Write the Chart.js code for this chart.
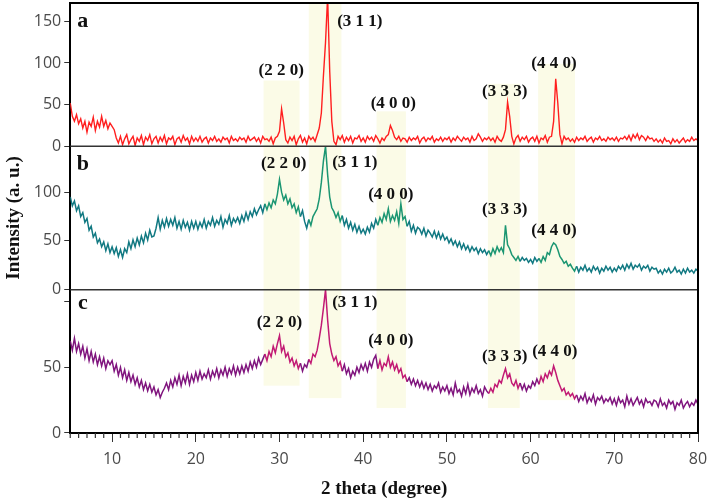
<!DOCTYPE html>
<html>
<head>
  <script src="https://cdn.jsdelivr.net/npm/chart.js"></script>
  <style>
    body { margin: 0; background: #fff; }
    #wrap { width: 708px; height: 500px; }
  </style>
</head>
<body>
<div id="wrap"><canvas id="xrdChart"></canvas></div>
<script>
// scan range 5..80 deg, 0.25 deg step
const thetaStart = 5;
const thetaStep = 0.25;

// sample a (red)
const sampleA = [
  52,36,30,38,27,33,22,30,17,29,24,35,19,30,23,36,24,31,21,28,
  24,20,10,4,12,2,9,14,3,8,12,1,10,6,13,2,11,7,14,3,
  9,12,4,11,6,13,3,10,8,12,2,9,11,5,13,7,10,3,12,6,
  10,6,12,5,9,11,4,10,7,12,6,9,5,11,8,10,4,12,7,9,
  6,11,8,10,5,12,7,9,11,6,10,4,12,8,9,6,11,3,10,12,
  18,45,28,8,4,11,7,12,2,9,13,5,10,3,12,8,11,6,14,22,
  40,85,125,180,90,30,6,2,12,8,13,5,11,7,12,4,10,9,13,6,
  10,5,12,8,11,6,13,9,4,10,7,12,14,25,19,11,8,12,6,10,
  9,5,11,7,10,8,12,4,9,11,6,10,8,12,5,9,7,11,6,10,
  8,11,5,10,7,12,9,6,11,8,10,5,12,7,9,15,11,6,10,8,
  11,7,10,5,12,8,6,11,20,53,36,12,3,10,13,6,11,8,12,5,
  9,11,6,12,4,10,8,13,5,11,12,30,81,52,14,3,12,8,10,6,
  9,5,11,7,10,8,12,6,9,11,5,10,8,12,7,9,6,11,8,10,
  7,11,6,10,9,12,8,13,7,14,10,15,8,13,11,7,12,9,10,6,
  9,5,8,4,10,6,7,3,9,5,8,4,7,10,5,8,6,11,7,9,
  7
];

// sample b (teal)
const sampleB = [
  95,86,91,81,86,75,79,69,73,61,65,54,58,48,52,44,49,40,47,38,
  44,37,43,34,41,33,42,38,49,42,51,44,53,46,55,48,58,51,61,54,
  55,63,74,62,71,64,73,65,72,66,74,63,70,62,71,64,69,61,70,63,
  70,62,69,64,72,63,70,66,74,65,71,67,75,64,72,68,76,66,73,69,
  74,68,76,70,79,72,80,75,83,77,82,86,79,88,82,89,84,92,88,98,
  113,100,92,97,88,93,84,88,79,85,75,81,70,63,72,66,75,79,83,93,
  110,132,147,118,95,84,80,74,79,70,76,66,72,63,69,61,67,59,65,58,
  62,57,64,59,68,63,72,66,74,69,78,72,83,70,76,71,80,68,88,72,
  75,65,70,60,66,58,64,62,57,63,55,61,58,54,60,53,59,52,57,51,
  54,48,52,46,50,44,49,42,47,41,45,39,44,40,43,37,42,38,41,36,
  40,35,42,37,44,39,43,38,66,46,42,36,33,30,34,29,33,30,32,28,
  31,27,33,29,32,28,34,30,38,36,44,48,46,41,34,31,27,29,24,26,
  22,19,24,18,23,20,25,19,22,18,24,20,23,17,22,19,24,20,23,18,
  22,19,24,21,25,20,26,22,27,21,25,23,26,20,24,22,25,19,23,21,
  22,17,20,16,21,18,22,17,19,23,18,20,16,21,17,22,18,20,17,21,
  19
];

// sample c (purple)
const sampleC = [
  70,63,72,62,68,60,66,57,64,55,62,54,60,52,58,51,57,49,55,52,
  55,47,52,44,50,42,48,40,46,39,44,37,42,35,40,33,38,32,37,31,
  35,29,33,27,31,34,38,33,40,35,42,37,44,36,43,38,45,37,44,39,
  46,40,47,41,45,42,48,41,47,43,49,42,48,44,50,43,49,45,51,44,
  50,45,51,46,52,47,54,49,55,50,57,52,56,60,55,62,58,66,61,68,
  74,62,66,58,61,54,57,51,55,49,53,47,52,50,56,53,60,58,63,72,
  82,95,109,86,68,60,55,58,51,54,47,52,45,49,42,47,44,50,46,52,
  48,53,47,54,50,56,59,49,55,48,53,51,58,50,54,48,52,46,49,42,
  44,39,42,37,41,36,40,35,39,34,38,33,37,32,36,34,38,31,35,32,
  36,30,34,29,38,31,33,28,35,30,37,29,34,31,36,30,33,28,35,32,
  30,34,31,37,35,40,38,44,49,42,45,38,36,40,34,38,33,37,32,36,
  34,39,36,41,37,43,39,45,42,47,44,51,46,40,36,32,34,29,31,28,
  30,26,29,24,28,25,30,23,27,24,29,22,27,25,28,23,26,24,27,22,
  26,21,27,23,25,20,28,22,26,21,24,27,22,25,20,26,23,24,21,25,
  24,20,26,21,23,19,25,22,24,18,23,21,25,19,22,24,20,23,21,25,
  22
];

// panel scales (top value of each stacked panel)
const panelIds = ['ya', 'yb', 'yc'];
const panelMax = [172, 147, 109];
const panelLetters = ['a', 'b', 'c'];
const letterY = [150, 129, 99];

// hkl reflections and the highlighted bands
const peakNames = ['(2 2 0)', '(3 1 1)', '(4 0 0)', '(3 3 3)', '(4 4 0)'];
const bandFrom = [28.1, 33.5, 41.6, 54.9, 60.9];
const bandTo = [32.4, 37.4, 45.1, 58.7, 65.3];
const bandTopA = [79, 172, 42, 75, 99];
const bandBottomC = [36, 26.5, 19, 19, 25];

// label anchors (degree, intensity in own panel)
const labelX = [
  [30.2, 39.6, 43.6, 56.9, 62.8],
  [30.5, 39.0, 43.3, 56.9, 62.8],
  [30.0, 39.0, 43.3, 56.9, 62.9]
];
const labelY = [
  [91, 150, 51, 66, 99],
  [129, 130, 98, 82, 61],
  [84, 99, 70, 58, 62]
];

const theta = sampleA.map((_, i) => thetaStart + i * thetaStep);
const toPoints = arr => arr.map((v, i) => ({ x: theta[i], y: v }));
const inBand = x => bandFrom.some((f, i) => x >= f && x <= bandTo[i]);

const serif = "'Liberation Serif', 'Times New Roman', serif";

const bandsPlugin = {
  id: 'bands',
  beforeDraw(chart) {
    const { ctx, chartArea, scales } = chart;
    ctx.save();
    ctx.fillStyle = '#fbfbe7';
    bandFrom.forEach((f, i) => {
      const x1 = scales.x.getPixelForValue(f);
      const x2 = scales.x.getPixelForValue(bandTo[i]);
      const y1 = Math.max(chartArea.top, scales.ya.getPixelForValue(bandTopA[i]));
      const y2 = scales.yc.getPixelForValue(bandBottomC[i]);
      ctx.fillRect(x1, y1, x2 - x1, y2 - y1);
    });
    ctx.restore();
  }
};

const framePlugin = {
  id: 'frame',
  afterDatasetsDraw(chart) {
    const { ctx, chartArea, scales } = chart;
    ctx.save();
    // panel dividers
    ctx.strokeStyle = '#333';
    ctx.lineWidth = 1.5;
    [scales.ya.bottom, scales.yb.bottom].forEach(y => {
      ctx.beginPath();
      ctx.moveTo(chartArea.left, y);
      ctx.lineTo(chartArea.right, y);
      ctx.stroke();
    });
    // top and right border
    ctx.strokeStyle = '#000';
    ctx.lineWidth = 2;
    ctx.beginPath();
    ctx.moveTo(chartArea.left, chartArea.top);
    ctx.lineTo(chartArea.right, chartArea.top);
    ctx.lineTo(chartArea.right, chartArea.bottom);
    ctx.stroke();
    // minor x ticks every degree
    ctx.strokeStyle = '#333';
    ctx.lineWidth = 1.2;
    for (let d = 5; d <= 80; d++) {
      if (d % 10 === 0) continue;
      const px = scales.x.getPixelForValue(d);
      ctx.beginPath();
      ctx.moveTo(px, chartArea.bottom);
      ctx.lineTo(px, chartArea.bottom + 5);
      ctx.stroke();
    }
    // peak labels and panel letters
    ctx.fillStyle = '#111';
    ctx.textAlign = 'center';
    ctx.textBaseline = 'middle';
    panelIds.forEach((id, p) => {
      const ys = scales[id];
      ctx.font = 'bold 17px ' + serif;
      peakNames.forEach((name, i) => {
        ctx.fillText(name, scales.x.getPixelForValue(labelX[p][i]), ys.getPixelForValue(labelY[p][i]));
      });
      ctx.font = 'bold 22px ' + serif;
      ctx.fillText(panelLetters[p], scales.x.getPixelForValue(6.5), ys.getPixelForValue(letterY[p]));
    });
    ctx.restore();
  }
};

const tickFont = { family: "'Open Sans', 'Noto Sans', sans-serif", size: 16 };

function panelAxis(p, extra) {
  return Object.assign({
    type: 'linear',
    position: 'left',
    stack: 'xrd',
    min: 0,
    max: panelMax[p],
    border: { color: '#000', width: 2 },
    grid: { drawOnChartArea: false, tickLength: 6, color: '#333' },
    ticks: { stepSize: 50, includeBounds: false, padding: 3, color: '#4a4a4a', font: tickFont },
    afterFit(scale) {
      // labels never sit on the panel edges, no extra room needed
      scale.paddingTop = 0;
      scale.paddingBottom = 0;
    }
  }, extra || {});
}

const ctx = document.getElementById('xrdChart').getContext('2d');
new Chart(ctx, {
  type: 'line',
  data: {
    datasets: [
      { label: 'a', data: toPoints(sampleA), yAxisID: 'ya', borderColor: '#ff1f1f', borderWidth: 1.4 },
      { label: 'b', data: toPoints(sampleB), yAxisID: 'yb', borderColor: '#117982', borderWidth: 1.5,
        segment: { borderColor: c => inBand(c.p0.parsed.x) ? '#1b9672' : undefined } },
      { label: 'c', data: toPoints(sampleC), yAxisID: 'yc', borderColor: '#80157e', borderWidth: 1.5,
        segment: { borderColor: c => inBand(c.p0.parsed.x) ? '#c21a74' : undefined } }
    ]
  },
  options: {
    responsive: true,
    maintainAspectRatio: false,
    animation: false,
    parsing: false,
    elements: { point: { radius: 0 }, line: { tension: 0 } },
    layout: { padding: { left: 3, right: 10, top: 3, bottom: 0 } },
    plugins: { legend: { display: false }, tooltip: { enabled: false } },
    scales: {
      x: {
        type: 'linear',
        min: 5,
        max: 80,
        border: { color: '#000', width: 2 },
        grid: { drawOnChartArea: false, tickLength: 9, color: '#333' },
        ticks: { stepSize: 10, includeBounds: false, padding: 8, color: '#4a4a4a', font: tickFont },
        title: { display: true, text: '2 theta (degree)', color: '#111', padding: { top: 2, bottom: 0 },
          font: { family: serif, size: 19, weight: 'bold' } },
        afterFit(scale) {
          scale.height = 67;
          scale.paddingLeft = 0;
          scale.paddingRight = 0;
        }
      },
      yc: panelAxis(2, {
        ticks: { stepSize: 50, includeBounds: false, padding: 3, color: '#4a4a4a', font: tickFont,
          callback: v => v === 100 ? '' : v }
      }),
      yb: panelAxis(1, {
        title: { display: true, text: 'Intensity (a. u.)', color: '#111', padding: { top: 0, bottom: 5 },
          font: { family: serif, size: 19, weight: 'bold' } }
      }),
      ya: panelAxis(0)
    }
  },
  plugins: [bandsPlugin, framePlugin]
});
</script>
</body>
</html>
